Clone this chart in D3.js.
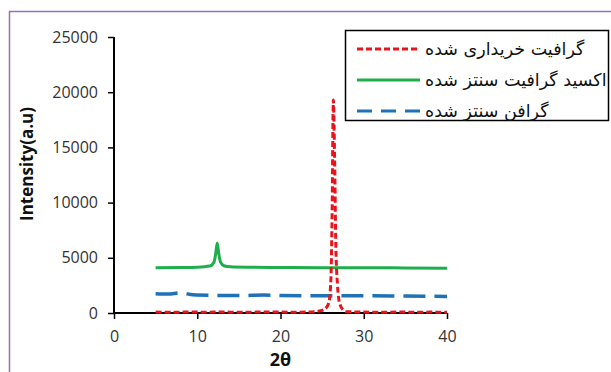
<!DOCTYPE html>
<html>
<head>
<meta charset="utf-8">
<script src="https://cdn.jsdelivr.net/npm/d3@7"></script>
<style>
  html, body { margin: 0; padding: 0; background: #fff; }
  svg { display: block; }
</style>
</head>
<body>
<script>
// ---------- data ----------
const seriesNames = ["گرافیت خریداری شده", "اکسید گرافیت سنتز شده", "گرافن سنتز شده"];

const graphiteX = [5, 7, 9, 11, 13, 15, 17, 19, 21, 23, 24.5, 25.3, 25.8, 26.05, 26.2, 26.35, 26.5, 26.65, 26.85, 27.1, 27.5, 28, 30, 32, 34, 36, 38, 40];
const graphiteY = [80, 60, 100, 70, 90, 60, 80, 100, 70, 90, 150, 350, 900, 3000, 9000, 19300, 14000, 6000, 2500, 900, 300, 120, 80, 60, 90, 70, 80, 60];

const oxideX = [5, 8, 10, 11.5, 12, 12.2, 12.4, 12.6, 12.8, 13.2, 14, 16, 20, 25, 30, 35, 40];
const oxideY = [4100, 4120, 4150, 4250, 4600, 5300, 6350, 5300, 4600, 4280, 4180, 4140, 4120, 4100, 4100, 4080, 4060];

const grapheneX = [5, 6.5, 8, 9.5, 12, 15, 18, 20, 25, 30, 35, 40];
const grapheneY = [1750, 1720, 1820, 1650, 1600, 1580, 1620, 1590, 1560, 1560, 1530, 1500];

const xTicks = [0, 10, 20, 30, 40];
const yTicks = [0, 5000, 10000, 15000, 20000, 25000];

const colors = ["#e8141c", "#1fae4b", "#1f72b8"];
const dashes = ["6,3", null, "22,9"];

// ---------- layout ----------
const W = 611, H = 372;
const svg = d3.select("body").append("svg").attr("width", W).attr("height", H);

// purple frame
svg.append("path")
  .attr("d", "M9.5," + H + " L9.5,11.5 L" + W + ",11.5")
  .attr("fill", "none").attr("stroke", "#9272bd").attr("stroke-width", 1.5);

const x = d3.scaleLinear().domain([0, 40]).range([114, 447]);
const y = d3.scaleLinear().domain([0, 25000]).range([313, 37]);

const tickFont = "'Open Sans', sans-serif";

// y axis
const yAxis = svg.append("g").attr("transform", "translate(" + x(0) + ",0)")
  .call(d3.axisLeft(y).tickValues(yTicks).tickSize(6).tickPadding(10).tickFormat(d3.format("d")));
yAxis.select(".domain").attr("stroke", "#000").attr("stroke-width", 2).attr("d", "M0," + y(25000) + "V" + y(0));
yAxis.selectAll(".tick line").attr("stroke", "#000").attr("stroke-width", 1.5);
yAxis.selectAll("text").attr("font-family", tickFont).attr("font-size", 16).attr("fill", "#333");

// x axis
const xAxis = svg.append("g").attr("transform", "translate(0," + y(0) + ")")
  .call(d3.axisBottom(x).tickValues(xTicks).tickSize(6).tickPadding(12));
xAxis.select(".domain").attr("stroke", "#000").attr("stroke-width", 2).attr("d", "M" + x(0) + ",0H" + x(40));
xAxis.selectAll(".tick line").attr("stroke", "#000").attr("stroke-width", 1.5);
xAxis.selectAll("text").attr("font-family", tickFont).attr("font-size", 16).attr("fill", "#333");

// axis titles
svg.append("text")
  .attr("transform", "translate(33,164) rotate(-90)")
  .attr("text-anchor", "middle")
  .attr("font-family", tickFont).attr("font-weight", "bold").attr("font-size", 17)
  .attr("fill", "#111").text("Intensity(a.u)");
svg.append("text")
  .attr("x", (x(0) + x(40)) / 2).attr("y", 366)
  .attr("text-anchor", "middle")
  .attr("font-family", tickFont).attr("font-weight", "bold").attr("font-size", 18)
  .attr("fill", "#111").text("2θ");

// ---------- series ----------
const line = d3.line().x(d => x(d[0])).y(d => y(d[1])).curve(d3.curveMonotoneX);
const series = [
  d3.zip(graphiteX, graphiteY),
  d3.zip(oxideX, oxideY),
  d3.zip(grapheneX, grapheneY)
];
// draw order: green, blue, red on top
[1, 2, 0].forEach(i => {
  svg.append("path")
    .datum(series[i])
    .attr("d", line)
    .attr("fill", "none")
    .attr("stroke", colors[i])
    .attr("stroke-width", i === 2 ? 3.5 : 3)
    .attr("stroke-dasharray", dashes[i]);
});

// ---------- legend ----------
const lg = svg.append("g");
lg.append("rect").attr("x", 345.5).attr("y", 30.5).attr("width", 263).attr("height", 90)
  .attr("fill", "#fff").attr("stroke", "#000").attr("stroke-width", 1.5);
const rowY = [49, 80, 111];
seriesNames.forEach((name, i) => {
  lg.append("line")
    .attr("x1", 357).attr("x2", 420).attr("y1", rowY[i]).attr("y2", rowY[i])
    .attr("stroke", colors[i]).attr("stroke-width", 3)
    .attr("stroke-dasharray", dashes[i] === null ? null : (i === 2 ? "15,9" : dashes[i]));
  lg.append("text")
    .attr("x", 425).attr("y", rowY[i] + 6)
    .attr("text-anchor", "start")
    .attr("font-family", "'DejaVu Sans', sans-serif").attr("font-size", 17.5)
    .attr("fill", "#111")
    .text(name);
});
</script>
</body>
</html>
